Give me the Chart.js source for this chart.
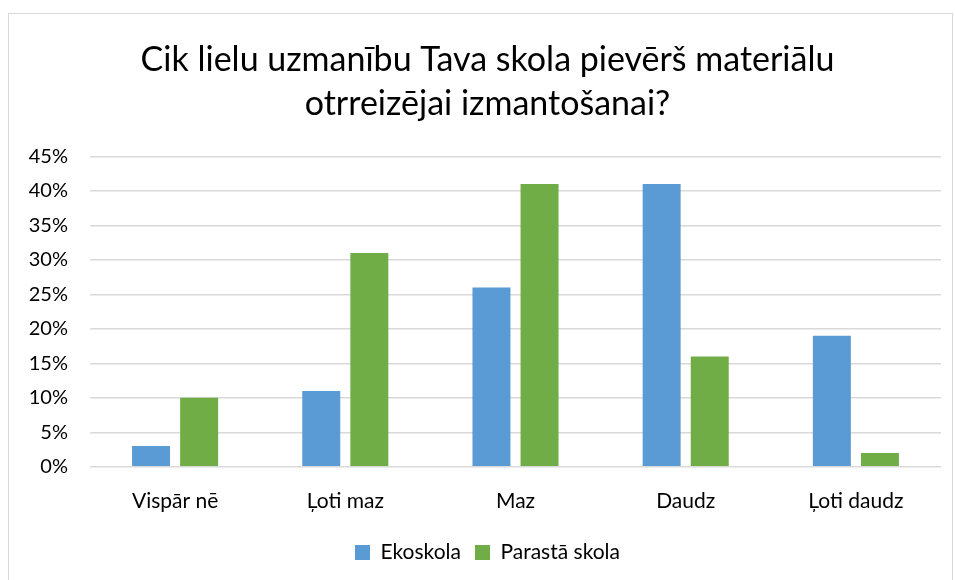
<!DOCTYPE html>
<html>
<head>
<meta charset="utf-8">
<script src="https://cdn.jsdelivr.net/npm/chart.js@4/dist/chart.umd.min.js"></script>
<style>
    body { margin: 0; background: #fff; }
    #wrap {
        position: absolute; left: 8px; top: 13px;
        width: 945px; height: 575px;
        border: 1px solid #d9d9d9; box-sizing: border-box;
    }
</style>
</head>
<body>
<div id="wrap"><canvas id="chart"></canvas></div>
<script>
// ============================================
// DATA
// ============================================
const titleLines = ['Cik lielu uzmanību Tava skola pievērš materiālu', 'otrreizējai izmantošanai?'];
const categories = ['Vispār nē', 'Ļoti maz', 'Maz', 'Daudz', 'Ļoti daudz'];
const ekoskola = [3, 11, 26, 41, 19];
const parastaSkola = [10, 31, 41, 16, 2];
const seriesNames = ['Ekoskola', 'Parastā skola'];

const FONT = 'Lato, "Open Sans", sans-serif';

new Chart(document.getElementById('chart'), {
    type: 'bar',
    data: {
        labels: categories,
        datasets: [
            { label: seriesNames[0], data: ekoskola, backgroundColor: '#5b9bd5' },
            { label: seriesNames[1], data: parastaSkola, backgroundColor: '#70ad47' }
        ]
    },
    options: {
        responsive: true,
        maintainAspectRatio: false,
        animation: false,
        layout: { padding: { left: 14, right: 0, top: 12, bottom: 14 } },
        datasets: { bar: { categoryPercentage: 0.565, barPercentage: 0.79 } },
        plugins: {
            title: {
                display: true,
                text: titleLines,
                color: '#000',
                font: { family: FONT, size: 34, weight: 'normal', lineHeight: 1.3 },
                padding: { top: 12, bottom: 30 }
            },
            legend: {
                position: 'bottom',
                labels: {
                    color: '#000',
                    font: { family: FONT, size: 21 },
                    boxWidth: 15, boxHeight: 15,
                    padding: 14
                }
            },
            tooltip: { enabled: false }
        },
        scales: {
            x: {
                grid: { display: false },
                border: { display: false },
                ticks: { color: '#000', font: { family: FONT, size: 21 }, padding: 14 }
            },
            y: {
                min: 0, max: 45,
                afterFit: axis => { axis.width = 67; },
                ticks: {
                    stepSize: 5,
                    color: '#000',
                    font: { family: FONT, size: 20 },
                    padding: 22,
                    callback: v => v + '%'
                },
                grid: { color: '#d9d9d9', lineWidth: 1.5, drawTicks: false },
                border: { display: false }
            },
            // empty right-hand spacer so the plot ends where the original does
            yRight: {
                position: 'right',
                afterFit: axis => { axis.width = 11; },
                grid: { display: false },
                ticks: { display: false },
                border: { display: false }
            }
        }
    }
});
</script>
</body>
</html>
